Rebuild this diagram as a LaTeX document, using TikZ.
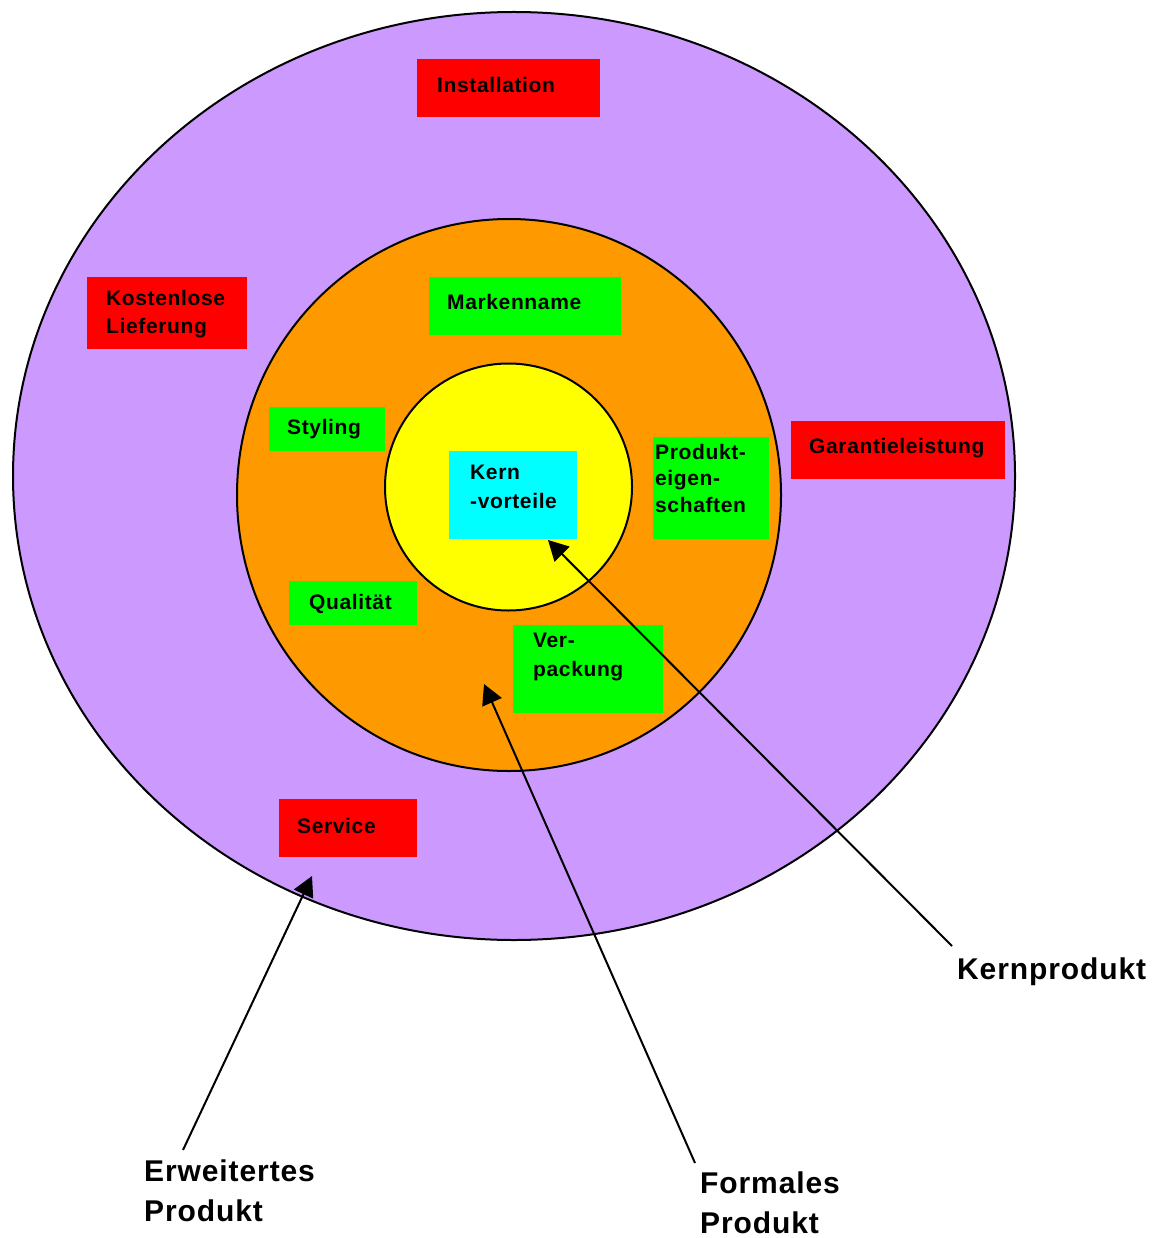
\documentclass[tikz,border=0pt]{standalone}
\usepackage{fontspec}
\setmainfont{Liberation Sans}
\usetikzlibrary{arrows.meta}
\definecolor{lila}{HTML}{CC99FF}
\definecolor{orangeCol}{HTML}{FF9900}
\definecolor{gelb}{HTML}{FFFF00}
\definecolor{gruen}{HTML}{00FF00}
\definecolor{rot}{HTML}{FF0000}
\definecolor{tuerkis}{HTML}{00FFFF}
\begin{document}
\begin{tikzpicture}[x=1pt, y=-1pt,
  ring/.style={draw=black, line width=2pt},
  box/.style={rectangle, inner sep=0pt, outer sep=0pt, anchor=north west},
  redbox/.style={box, fill=rot},
  greenbox/.style={box, fill=gruen},
  cyanbox/.style={box, fill=tuerkis},
  txt/.style={anchor=west, inner sep=0pt, align=left,
    font=\bfseries\addfontfeature{LetterSpace=3}\fontsize{21}{28}\selectfont},
  biglabel/.style={anchor=north west, inner sep=0pt, align=left,
    font=\bfseries\addfontfeature{LetterSpace=3}\fontsize{30}{40}\selectfont},
  pointer/.style={draw=black, line width=2pt, -{Triangle[length=20pt, width=21pt]}}]

\useasboundingbox (0,0) rectangle (1167,1238);

% concentric product levels
\fill[white] (0,0) rectangle (1167,1238);
\draw[ring, fill=lila] (514,476) ellipse [x radius=501pt, y radius=464pt];
\draw[ring, fill=orangeCol] (509,495) ellipse [x radius=272pt, y radius=276pt];
\draw[ring, fill=gelb] (508.5,487) circle [radius=123.5pt];

% outer level: augmented product
\node[redbox, minimum width=183pt, minimum height=58pt] (installBox) at (417,59) {};
\node[txt] (install) at (437,85) {Installation};
\node[redbox, minimum width=160pt, minimum height=72pt] (lieferBox) at (87,277) {};
\node[txt] (liefer) at (106,314) {Kostenlose\\Lieferung};
\node[redbox, minimum width=214pt, minimum height=58pt] (garantieBox) at (791,421) {};
\node[txt] (garantie) at (809,448) {Garantieleistung};
\node[redbox, minimum width=138pt, minimum height=58pt] (serviceBox) at (279,799) {};
\node[txt] (service) at (297,826) {Service};

% middle level: formal product
\node[greenbox, minimum width=192pt, minimum height=58pt] (markeBox) at (429,277) {};
\node[txt] (marke) at (447,302) {Markenname};
\node[greenbox, minimum width=116pt, minimum height=44pt] (stylingBox) at (269,407) {};
\node[txt] (styling) at (287,429) {Styling};
\node[greenbox, minimum width=116pt, minimum height=102pt] (eigenBox) at (653,437) {};
\node[txt, font=\bfseries\addfontfeature{LetterSpace=3}\fontsize{21}{26.5}\selectfont] (eigen) at (655,478) {Produkt-\\eigen-\\schaften};
\node[greenbox, minimum width=128pt, minimum height=44pt] (qualBox) at (289,581) {};
\node[txt] (qual) at (309,604) {Qualität};
\node[greenbox, minimum width=150pt, minimum height=88pt] (packBox) at (513,625) {};
\node[txt, font=\bfseries\addfontfeature{LetterSpace=3}\fontsize{21}{29}\selectfont] (pack) at (533,657) {Ver-\\packung};

% core
\node[cyanbox, minimum width=128pt, minimum height=88pt] (kernBox) at (449,451) {};
\node[txt, font=\bfseries\addfontfeature{LetterSpace=3}\fontsize{21}{29}\selectfont] (kern) at (470,487) {Kern\\-vorteile};

% level labels
\node[biglabel] (lblErw) at (144,1160) {Erweitertes\\Produkt};
\node[biglabel] (lblForm) at (700,1172) {Formales\\Produkt};
\node[biglabel] (lblKern) at (957,958) {Kernprodukt};

% pointers from labels into the levels
\coordinate (erwTail) at (183,1150);
\coordinate (erwTip) at (312,876);
\coordinate (formTail) at (695,1163);
\coordinate (formTip) at (484,684);
\coordinate (kernTail) at (952,946);
\coordinate (kernTip) at (548,540);
\draw[pointer] (erwTail) -- (erwTip);
\draw[pointer] (formTail) -- (formTip);
\draw[pointer] (kernTail) -- (kernTip);
\end{tikzpicture}
\end{document}
